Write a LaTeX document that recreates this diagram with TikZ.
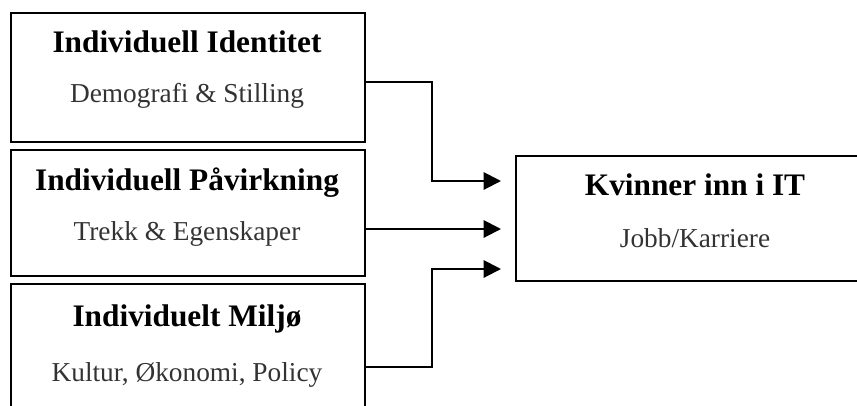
\documentclass[tikz,border=0pt]{standalone}
\usepackage{fontspec}
\setmainfont{Liberation Serif}
\usetikzlibrary{arrows.meta, positioning}

\begin{document}
\begin{tikzpicture}[x=0.75pt, y=-0.75pt]

\tikzset{box/.style = {draw, line width=1.5pt, anchor=north west, inner sep=0pt, minimum width=265.5pt}}
\tikzset{heading/.style = {anchor=base, font=\fontsize{23.5}{26}\selectfont\bfseries}}
\tikzset{sub/.style = {anchor=base, text=black!80, font=\fontsize{20.5}{24}\selectfont}}
\tikzset{edge/.style = {-{Triangle[length=13pt, width=13pt]}, line width=1.5pt}}

\clip (0,0) rectangle (857,405);
% boxes
\node[box, minimum height=96.75pt] (ident) at (10,12) {};
\node[box, minimum height=94.5pt] (pavirk) at (10,149) {};
\node[box, minimum height=96.75pt] (miljo) at (10,283) {};
\node[box, minimum height=93.75pt] (kvinner) at (515,155) {};
% texts
\node[heading] (identT) at (187,52) {Individuell Identitet};
\node[sub] (identS) at (187,102) {Demografi \& Stilling};
\node[heading] (pavirkT) at (187,190) {Individuell Påvirkning};
\node[sub] (pavirkS) at (187,240) {Trekk \& Egenskaper};
\node[heading] (miljoT) at (187,326) {Individuelt Miljø};
\node[sub] (miljoS) at (187,381) {Kultur, Økonomi, Policy};
\node[heading] (kvinnerT) at (695,195) {Kvinner inn i IT};
\node[sub] (kvinnerS) at (695,247) {Jobb/Karriere};
% edges
\draw [edge] (ident.east |- 0,82) -| (432,181) -- ([xshift=-10.5pt]kvinner.west |- 0,181);
\draw [edge] (pavirk.east |- 0,229) -- ([xshift=-10.5pt]kvinner.west |- 0,229);
\draw [edge] (miljo.east |- 0,367) -| (432,269) -- ([xshift=-10.5pt]kvinner.west |- 0,269);
\end{tikzpicture}
\end{document}
